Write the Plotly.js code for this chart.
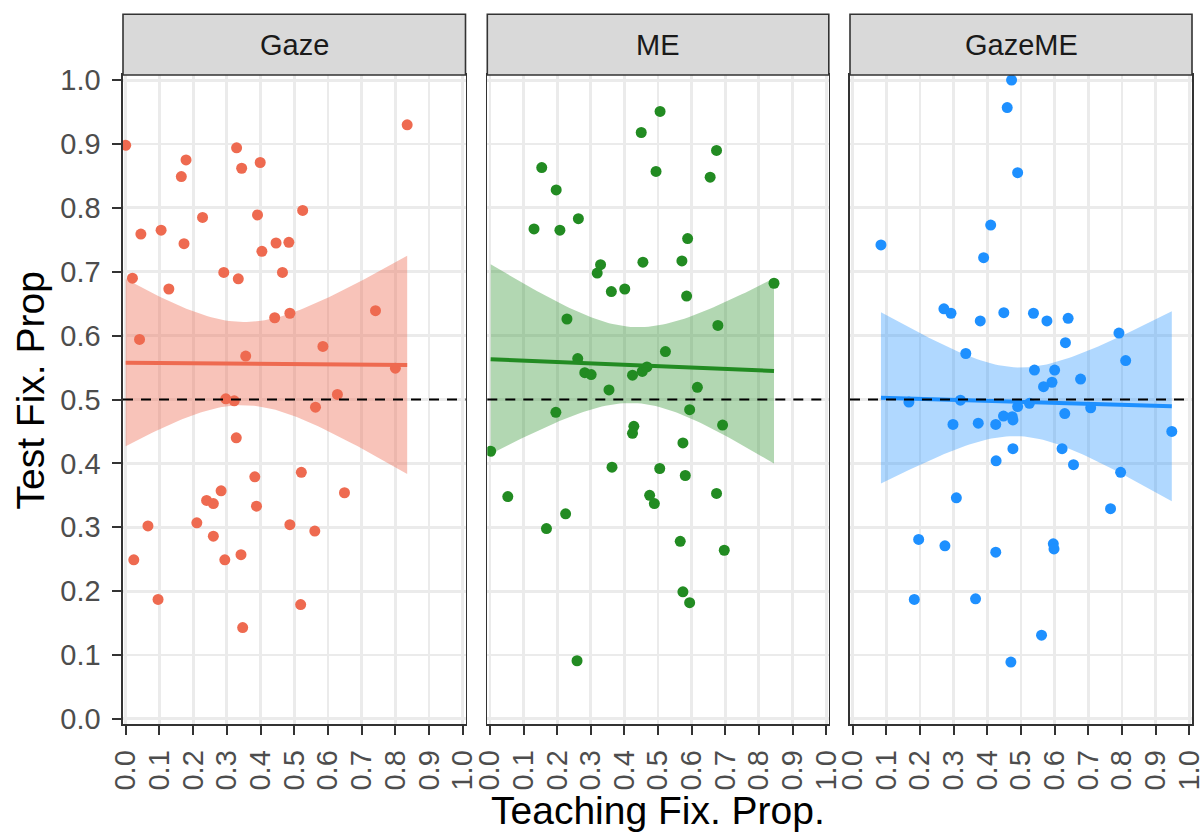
<!DOCTYPE html>
<html>
<head>
<meta charset="utf-8">
<script src="https://cdn.plot.ly/plotly-3.0.1.min.js"></script>
<style>
  html, body { margin: 0; padding: 0; background: #ffffff; }
  #chart { width: 1203px; height: 832px; }
</style>
</head>
<body>
<div id="chart"></div>
<script>
// ---------- data ----------
const panelNames = ["Gaze", "ME", "GazeME"];
const panelColors = ["#EE6A50", "#228B22", "#1E90FF"];
const ribbonColors = ["rgba(238,106,80,0.4)", "rgba(34,139,34,0.35)", "rgba(30,144,255,0.35)"];

const gazeX = [0.00, 0.835, 0.329, 0.179, 0.344, 0.399, 0.165, 0.525, 0.228, 0.391,
               0.045, 0.105, 0.173, 0.446, 0.484, 0.404, 0.020, 0.291, 0.334, 0.465,
               0.128, 0.442, 0.487, 0.741, 0.041, 0.356, 0.585, 0.800, 0.297, 0.322,
               0.628, 0.563, 0.328, 0.383, 0.521, 0.283, 0.649, 0.240, 0.260, 0.388,
               0.066, 0.211, 0.487, 0.561, 0.260, 0.024, 0.294, 0.342, 0.096, 0.519,
               0.347];
const gazeY = [0.898, 0.930, 0.894, 0.875, 0.862, 0.871, 0.849, 0.796, 0.785, 0.789,
               0.759, 0.765, 0.744, 0.745, 0.746, 0.732, 0.690, 0.699, 0.689, 0.699,
               0.673, 0.628, 0.635, 0.639, 0.594, 0.568, 0.583, 0.549, 0.501, 0.498,
               0.508, 0.488, 0.440, 0.379, 0.386, 0.357, 0.354, 0.342, 0.337, 0.333,
               0.302, 0.307, 0.304, 0.294, 0.286, 0.249, 0.249, 0.257, 0.187, 0.179,
               0.143];

const meX = [0.506, 0.450, 0.674, 0.154, 0.494, 0.655, 0.197, 0.131, 0.208, 0.263,
             0.588, 0.329, 0.319, 0.455, 0.571, 0.361, 0.401, 0.585, 0.845, 0.229,
             0.678, 0.522, 0.261, 0.282, 0.301, 0.424, 0.453, 0.467, 0.354, 0.617,
             0.002, 0.196, 0.594, 0.428, 0.424, 0.692, 0.574, 0.363, 0.505, 0.581,
             0.053, 0.475, 0.489, 0.674, 0.225, 0.168, 0.566, 0.697, 0.574, 0.594,
             0.259];
const meY = [0.951, 0.918, 0.890, 0.863, 0.857, 0.848, 0.828, 0.767, 0.765, 0.783,
             0.752, 0.711, 0.698, 0.715, 0.717, 0.669, 0.673, 0.662, 0.682, 0.626,
             0.616, 0.575, 0.564, 0.542, 0.539, 0.538, 0.544, 0.551, 0.515, 0.519,
             0.419, 0.480, 0.484, 0.458, 0.447, 0.460, 0.432, 0.394, 0.392, 0.381,
             0.348, 0.350, 0.337, 0.353, 0.321, 0.298, 0.278, 0.264, 0.199, 0.182,
             0.091];

const gazemeX = [0.472, 0.459, 0.490, 0.410, 0.084, 0.389, 0.271, 0.292, 0.379, 0.449,
                 0.537, 0.577, 0.640, 0.791, 0.632, 0.336, 0.811, 0.540, 0.600, 0.592,
                 0.567, 0.677, 0.167, 0.320, 0.525, 0.490, 0.707, 0.630, 0.448, 0.474,
                 0.476, 0.298, 0.373, 0.425, 0.948, 0.476, 0.622, 0.426, 0.656, 0.796,
                 0.308, 0.766, 0.196, 0.274, 0.425, 0.596, 0.598, 0.183, 0.365, 0.561,
                 0.470];
const gazemeY = [1.000, 0.957, 0.855, 0.773, 0.742, 0.722, 0.642, 0.635, 0.623, 0.636,
                 0.635, 0.623, 0.627, 0.604, 0.589, 0.572, 0.561, 0.546, 0.546, 0.527,
                 0.520, 0.532, 0.496, 0.499, 0.494, 0.489, 0.487, 0.478, 0.474, 0.473,
                 0.468, 0.461, 0.463, 0.461, 0.450, 0.423, 0.423, 0.404, 0.398, 0.386,
                 0.346, 0.329, 0.281, 0.271, 0.261, 0.274, 0.266, 0.187, 0.188, 0.131,
                 0.089];

const tickVals = [0.0, 0.1, 0.2, 0.3, 0.4, 0.5, 0.6, 0.7, 0.8, 0.9, 1.0];
const tickText = ["0.0","0.1","0.2","0.3","0.4","0.5","0.6","0.7","0.8","0.9","1.0"];
const refLine = 0.5;

const xTitle = "Teaching Fix. Prop.";
const yTitle = "Test Fix. Prop";

const seriesX = [gazeX, meX, gazemeX];
const seriesY = [gazeY, meY, gazemeY];

// ---------- linear fit with 95% confidence band (as geom_smooth(method = "lm")) ----------
function lmBand(xs, ys) {
  const n = xs.length;
  let mx = 0, my = 0;
  for (let i = 0; i < n; i++) { mx += xs[i]; my += ys[i]; }
  mx /= n; my /= n;
  let sxx = 0, sxy = 0;
  for (let i = 0; i < n; i++) { sxx += (xs[i]-mx)*(xs[i]-mx); sxy += (xs[i]-mx)*(ys[i]-my); }
  const b = sxy / sxx, a = my - b * mx;
  let sse = 0;
  for (let i = 0; i < n; i++) { const r = ys[i] - (a + b*xs[i]); sse += r*r; }
  const s = Math.sqrt(sse / (n - 2));
  const t = 2.0096; // qt(0.975, 49)
  const lo = Math.min(...xs), hi = Math.max(...xs);
  const gx = [], fit = [], up = [], dn = [];
  const m = 80;
  for (let k = 0; k < m; k++) {
    const x = lo + (hi - lo) * k / (m - 1);
    const yh = a + b * x;
    const se = s * Math.sqrt(1/n + (x-mx)*(x-mx)/sxx);
    gx.push(x); fit.push(yh); up.push(yh + t*se); dn.push(yh - t*se);
  }
  return {gx, fit, up, dn};
}

// ---------- geometry (pixels -> paper) ----------
const W = 1203, H = 832;
const mL = 123, mR = 11, mT = 75, mB = 108;
const pw = W - mL - mR, ph = H - mT - mB;
const panelPx = [[123, 465.5], [487.3, 828.8], [850, 1192]];
const domains = panelPx.map(p => [(p[0]-mL)/pw, (p[1]-mL)/pw]);
const stripTop = 1 + (mT - 14.3) / ph;
const axRange = [-0.008, 1.008];

const fontFam = "Liberation Sans, Arial, Helvetica, sans-serif";

const traces = [];
const shapes = [];
const annotations = [];
const layout = {
  width: W, height: H,
  margin: {l: mL, r: mR, t: mT, b: mB, pad: 0},
  paper_bgcolor: "#ffffff",
  plot_bgcolor: "#ffffff",
  showlegend: false,
  font: {family: fontFam, color: "#4D4D4D"},
};

for (let p = 0; p < 3; p++) {
  const xa = p === 0 ? "x" : "x" + (p+1);
  const ya = p === 0 ? "y" : "y" + (p+1);
  const band = lmBand(seriesX[p], seriesY[p]);

  traces.push({
    type: "scatter", mode: "lines", xaxis: xa, yaxis: ya,
    x: band.gx.concat(band.gx.slice().reverse()),
    y: band.up.concat(band.dn.slice().reverse()),
    fill: "toself", fillcolor: ribbonColors[p],
    line: {width: 0, color: "rgba(0,0,0,0)"}, hoverinfo: "skip"
  });
  traces.push({
    type: "scatter", mode: "markers", xaxis: xa, yaxis: ya,
    x: seriesX[p], y: seriesY[p],
    marker: {color: panelColors[p], size: 11, line: {width: 0}}
  });
  traces.push({
    type: "scatter", mode: "lines", xaxis: xa, yaxis: ya,
    x: band.gx, y: band.fit,
    line: {color: panelColors[p], width: 4}
  });

  const xKey = p === 0 ? "xaxis" : "xaxis" + (p+1);
  const yKey = p === 0 ? "yaxis" : "yaxis" + (p+1);
  layout[xKey] = {
    domain: domains[p], anchor: ya, range: axRange,
    tickmode: "array", tickvals: tickVals, ticktext: tickText,
    tickangle: -90, ticks: "outside", ticklen: 9, tickwidth: 2, tickcolor: "#333333",
    tickfont: {size: 29, color: "#4D4D4D", family: fontFam},
    ticklabelstandoff: 4, ticklabeloverflow: "allow",
    showgrid: true, gridcolor: "#EBEBEB", gridwidth: 2.8,
    zeroline: false, showline: true, mirror: true, linecolor: "#333333", linewidth: 1.6,
    fixedrange: true
  };
  layout[yKey] = {
    domain: [0, 1], anchor: xa, range: axRange,
    tickmode: "array", tickvals: tickVals, ticktext: tickText,
    ticks: p === 0 ? "outside" : "", ticklen: 9, tickwidth: 2, tickcolor: "#333333",
    showticklabels: p === 0,
    tickfont: {size: 29, color: "#4D4D4D", family: fontFam},
    ticklabelstandoff: 6, ticklabeloverflow: "allow",
    showgrid: true, gridcolor: "#EBEBEB", gridwidth: 2.8,
    zeroline: false, showline: true, mirror: true, linecolor: "#333333", linewidth: 1.6,
    fixedrange: true
  };

  // dashed reference line
  shapes.push({
    type: "line", xref: xa + " domain", yref: ya,
    x0: 0, x1: 1, y0: refLine, y1: refLine,
    line: {color: "#000000", width: 2, dash: "10px,8px"}, layer: "above"
  });
  // facet strip
  shapes.push({
    type: "rect", xref: "paper", yref: "paper",
    x0: domains[p][0], x1: domains[p][1], y0: 1, y1: stripTop,
    fillcolor: "#D9D9D9", line: {color: "#333333", width: 1.6}, layer: "above"
  });
  annotations.push({
    xref: "paper", yref: "paper",
    x: (domains[p][0] + domains[p][1]) / 2, y: (1 + stripTop) / 2,
    xanchor: "center", yanchor: "middle", showarrow: false,
    text: panelNames[p], font: {size: 29, color: "#1A1A1A", family: fontFam}
  });
}

// axis titles
annotations.push({
  xref: "paper", yref: "paper",
  x: (domains[1][0] + domains[1][1]) / 2, y: -(787 - (H - mB)) / ph,
  xanchor: "center", yanchor: "top", showarrow: false,
  text: xTitle, font: {size: 39, color: "#000000", family: fontFam}
});
annotations.push({
  xref: "paper", yref: "paper",
  x: (29.5 - mL) / pw, y: ((H - mB) - 391) / ph,
  xanchor: "center", yanchor: "middle", showarrow: false, textangle: -90,
  text: yTitle, font: {size: 39, color: "#000000", family: fontFam}
});

layout.shapes = shapes;
layout.annotations = annotations;

Plotly.newPlot("chart", traces, layout, {displayModeBar: false, staticPlot: true});
</script>
</body>
</html>
